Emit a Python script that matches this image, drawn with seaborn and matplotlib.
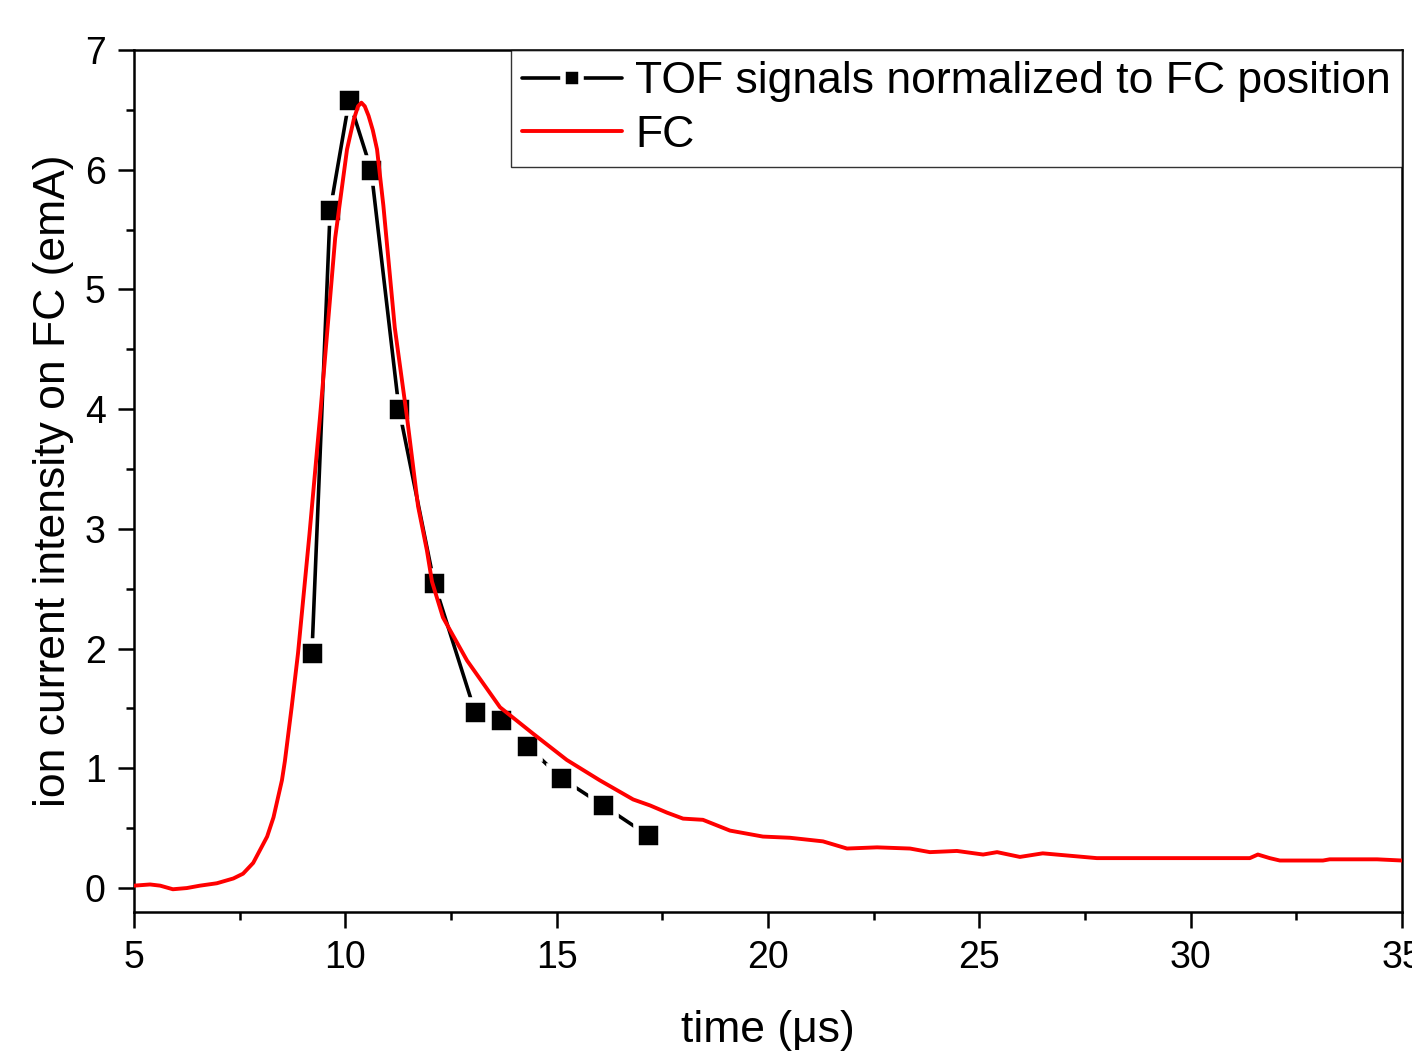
import pandas as pd
import seaborn as sns
import matplotlib.pyplot as plt
from matplotlib.ticker import MultipleLocator

# TOF signals
tof_time = [9.21, 9.64, 10.09, 10.61, 11.27, 12.10, 13.07, 13.68, 14.30, 15.10, 16.10, 17.16]
tof_current = [1.96, 5.66, 6.58, 6.00, 4.00, 2.55, 1.47, 1.40, 1.19, 0.92, 0.69, 0.44]

# Faraday cup trace
fc_time = [5.00, 5.38, 5.62, 5.92, 6.25, 6.56, 6.96, 7.35, 7.58, 7.82, 8.15, 8.30,
           8.50, 8.57, 8.73, 8.88, 9.15, 9.40, 9.76, 10.04, 10.20, 10.30, 10.38, 10.46,
           10.55, 10.65, 10.75, 10.90, 11.17, 11.46, 11.72, 11.93, 12.05, 12.31, 12.88,
           13.66, 14.44, 15.24, 16.02, 16.81, 17.21, 17.61, 17.99, 18.46, 19.10, 19.88,
           20.52, 21.30, 21.87, 22.58, 23.36, 23.83, 24.47, 25.09, 25.42, 25.96, 26.50,
           27.14, 27.78, 29.04, 30.30, 31.40, 31.59, 31.87, 32.11, 33.13, 33.29,
           34.41, 35.00]
fc_current = [0.02, 0.03, 0.02, -0.01, 0.00, 0.02, 0.04, 0.08, 0.12, 0.21, 0.43, 0.59,
              0.90, 1.06, 1.51, 1.96, 2.95, 3.93, 5.43, 6.17, 6.42, 6.53, 6.56, 6.53,
              6.45, 6.33, 6.17, 5.70, 4.68, 3.93, 3.19, 2.82, 2.56, 2.26, 1.90,
              1.51, 1.29, 1.07, 0.90, 0.74, 0.69, 0.63, 0.58, 0.57, 0.48, 0.43,
              0.42, 0.39, 0.33, 0.34, 0.33, 0.30, 0.31, 0.28, 0.30, 0.26, 0.29,
              0.27, 0.25, 0.25, 0.25, 0.25, 0.28, 0.25, 0.23, 0.23, 0.24,
              0.24, 0.23]

tof = pd.DataFrame({"time": tof_time, "current": tof_current})
fc = pd.DataFrame({"time": fc_time, "current": fc_current})

sns.set_style("ticks")
plt.rcParams["font.family"] = ["Liberation Sans", "DejaVu Sans"]
plt.rcParams["text.color"] = "black"
plt.rcParams["axes.labelcolor"] = "black"

fig = plt.figure(figsize=(14.12, 10.53), dpi=100)
ax = fig.add_axes([134 / 1412, 1 - 912 / 1053, (1402 - 134) / 1412, (912 - 50) / 1053])

sns.lineplot(data=tof, x="time", y="current", ax=ax, color="black", linewidth=2.6,
             marker="s", markersize=18, markerfacecolor="black",
             markeredgecolor="white", markeredgewidth=4,
             label="TOF signals normalized to FC position", zorder=2)
sns.lineplot(data=fc, x="time", y="current", ax=ax, color="#ff0000", linewidth=2.8,
             label="FC", zorder=3)

ax.set_xlim(5, 35)
ax.set_ylim(-0.2, 7)
ax.xaxis.set_major_locator(MultipleLocator(5))
ax.xaxis.set_minor_locator(MultipleLocator(2.5))
ax.yaxis.set_major_locator(MultipleLocator(1))
ax.yaxis.set_minor_locator(MultipleLocator(0.5))
ax.tick_params(which="major", direction="out", length=11.5, width=1.8, labelsize=27,
               pad=9, colors="black", labelcolor="black")
ax.tick_params(which="minor", direction="out", length=6, width=1.8, colors="black")
for side in ["left", "right", "top", "bottom"]:
    ax.spines[side].set_visible(True)
    ax.spines[side].set_linewidth(1.8)
    ax.spines[side].set_color("black")

ax.set_xlabel("time (\u03bcs)", fontsize=32, labelpad=24)
ax.set_ylabel("ion current intensity on FC (emA)", fontsize=32, labelpad=8)

leg = ax.legend(loc="upper right", fontsize=32, frameon=True, fancybox=False,
                edgecolor="black", borderaxespad=0, handlelength=2.25,
                markerscale=0.75, borderpad=0.25, labelspacing=0.28, handletextpad=0.3)
leg.get_frame().set_linewidth(1.0)
for t in leg.get_texts():
    t.set_color("black")

fig.savefig("out.png", dpi=100)
